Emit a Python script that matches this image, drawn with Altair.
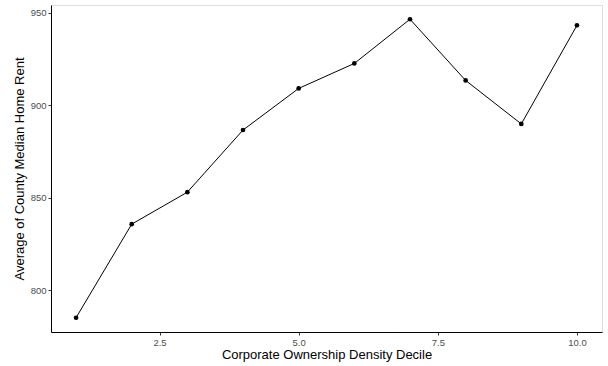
import altair as alt
import pandas as pd

deciles = [1, 2, 3, 4, 5, 6, 7, 8, 9, 10]
rent = [785.0, 835.6, 852.9, 886.5, 909.0, 922.5, 946.4, 913.3, 889.8, 943.1]

df = pd.DataFrame({"decile": deciles, "rent": rent})

font = "Liberation Sans"

x = alt.X(
    "decile:Q",
    scale=alt.Scale(domain=[0.55, 10.45], nice=False, zero=False),
    axis=alt.Axis(
        values=[2.5, 5.0, 7.5, 10.0],
        format=".1f",
        title="Corporate Ownership Density Decile",
        grid=False,
        domainColor="black",
        domainWidth=1,
        tickColor="#333333",
        tickSize=3,
        labelColor="#4D4D4D",
        labelFontSize=9.5,
        labelFont=font,
        labelPadding=2,
        titleFont=font,
        titleFontSize=13,
        titleFontWeight="normal",
        titleColor="black",
        titlePadding=2,
    ),
)
y = alt.Y(
    "rent:Q",
    scale=alt.Scale(domain=[777.3, 954.1], nice=False, zero=False),
    axis=alt.Axis(
        values=[800, 850, 900, 950],
        title="Average of County Median Home Rent",
        grid=False,
        domainColor="black",
        domainWidth=1,
        tickColor="#333333",
        tickSize=3,
        labelColor="#4D4D4D",
        labelFontSize=9.5,
        labelFont=font,
        labelPadding=2,
        titleFont=font,
        titleFontSize=13,
        titleFontWeight="normal",
        titleColor="black",
        titlePadding=4,
    ),
)

base = alt.Chart(df).encode(x=x, y=y)
line = base.mark_line(color="black", strokeWidth=1)
pts = base.mark_circle(color="black", size=22, opacity=1)

chart = (
    (line + pts)
    .properties(
        width=551,
        height=327,
        autosize=alt.AutoSizeParams(type="none"),
        padding={"left": 51, "top": 5, "right": 6, "bottom": 34},
    )
    .configure_view(stroke=None)
    .configure(background="white")
)

chart.save("out.html", embed_options={"renderer": "svg", "actions": False})
